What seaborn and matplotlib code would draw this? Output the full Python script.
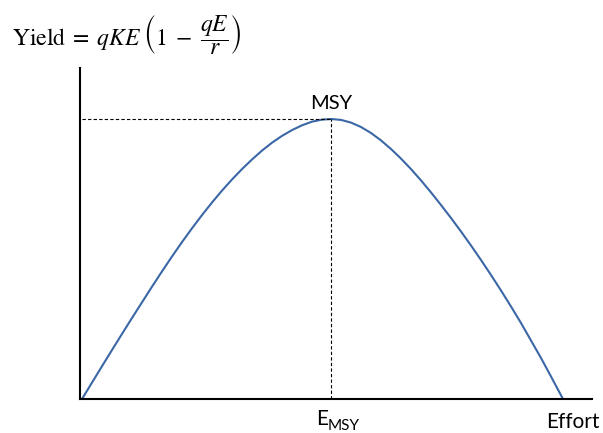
import matplotlib
matplotlib.use("Agg")
import matplotlib.pyplot as plt
import seaborn as sns

# Yield-effort curve (effort and yield in arbitrary units)
effort = [2, 12, 22, 32, 42, 52, 62, 72, 82, 92, 102, 112, 122, 132, 142, 152,
          162, 172, 182, 192, 202, 212, 222, 232, 242, 251,
          261, 271, 281, 291, 301, 311, 321, 331, 341, 351, 361, 371, 381, 391,
          401, 411, 421, 431, 441, 451, 461, 471, 483]
yield_ = [0, 16.4, 32.8, 49.0, 65.1, 81.0, 96.7, 112.3, 127.6, 142.5, 156.9,
          170.7, 183.9, 196.5, 208.4, 219.5, 229.9, 239.5, 248.4, 256.3, 263.1,
          268.9, 273.7, 277.3, 279.4, 280,
          279.1, 276.4, 272.0, 266.0, 258.6, 250.0, 240.4, 229.9, 218.6, 206.6,
          194.0, 181.0, 167.5, 153.5, 139.0, 124.0, 108.5, 92.5, 76.0, 58.5,
          41.0, 22.5, 0]
e_msy = 251
msy = 280

sns.set_theme(style="white")
plt.rcParams["font.family"] = ["Lato", "DejaVu Sans"]
plt.rcParams["mathtext.fontset"] = "stix"

fig = plt.figure(figsize=(6.03, 4.33), dpi=100)
ax = fig.add_axes([80 / 603, 34 / 433, 512 / 603, 331 / 433])

sns.lineplot(x=effort, y=yield_, ax=ax, color="#3B67A6", linewidth=1.5,
             sort=False, estimator=None, solid_joinstyle="round",
             solid_capstyle="round")

# MSY guide lines
ax.plot([2, e_msy], [msy, msy], color="black", linewidth=0.8,
        linestyle=(0, (3, 2)))
ax.plot([e_msy, e_msy], [0, msy], color="black", linewidth=0.8,
        linestyle=(0, (3, 2)))

ax.set_xlim(0, 512)
ax.set_ylim(0, 331)
ax.set_xticks([])
ax.set_yticks([])
for side in ("top", "right"):
    ax.spines[side].set_visible(False)
for side in ("left", "bottom"):
    ax.spines[side].set_color("black")
    ax.spines[side].set_linewidth(1.5)

ax.text(e_msy, 290, "MSY", ha="center", va="baseline", fontsize=14.5,
        color="black")
ax.text(493, -29, "Effort", ha="center", va="baseline", fontsize=15,
        color="black", clip_on=False)
ax.text(236, -26, "E", ha="left", va="baseline", fontsize=15,
        color="black", clip_on=False)
ax.text(247.5, -31, "MSY", ha="left", va="baseline", fontsize=11,
        color="black", clip_on=False)

fig.text(12 / 603, 1 - 46 / 433,
         r"$\mathrm{Yield}\;=\;qKE\;\left(1\;-\;\dfrac{qE}{r}\right)$",
         ha="left", va="baseline", fontsize=17, color="black")

fig.savefig("out.png", dpi=100)
